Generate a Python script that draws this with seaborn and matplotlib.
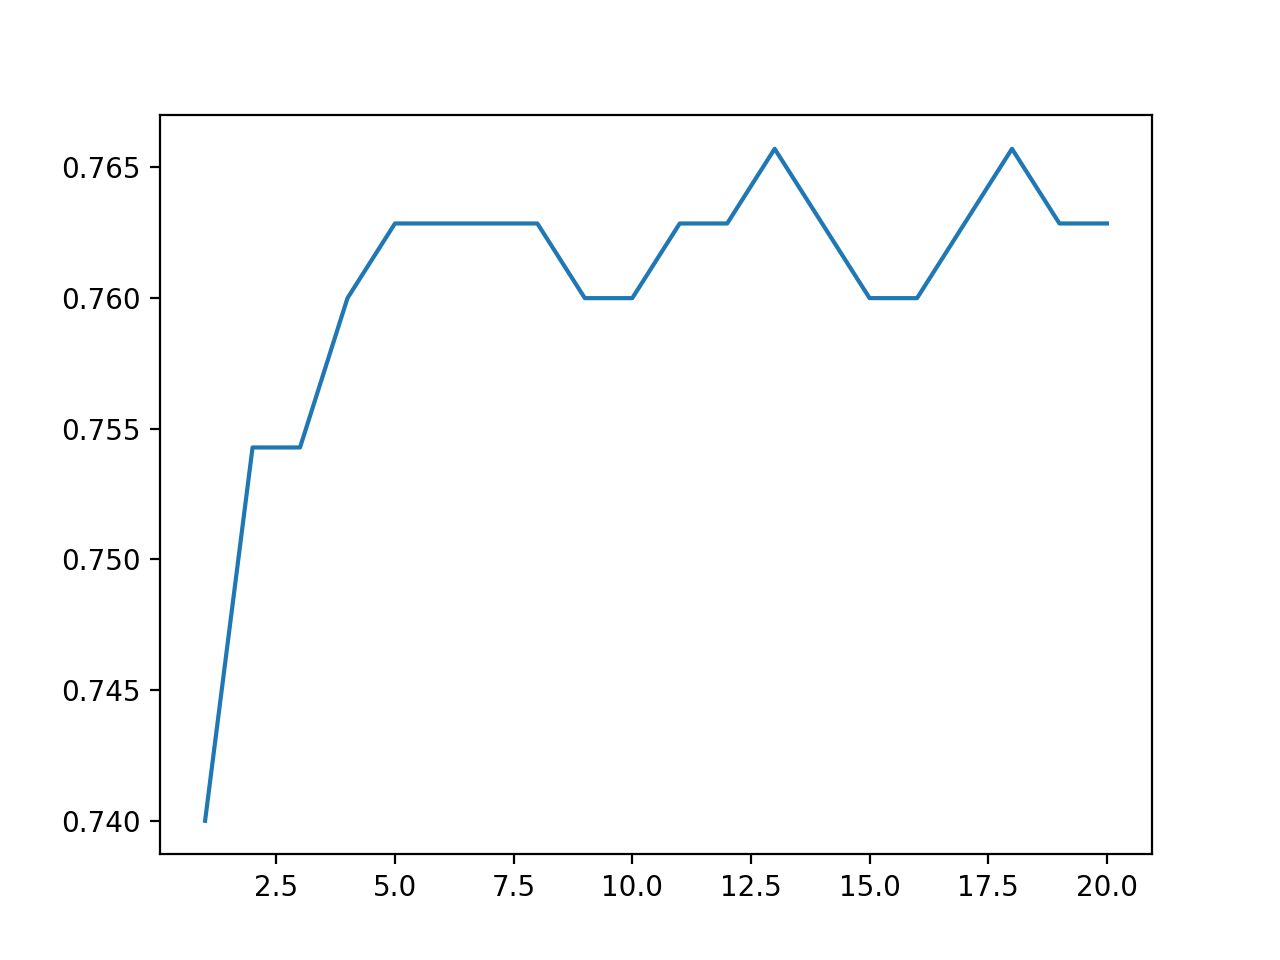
import matplotlib
matplotlib.use("Agg")
import matplotlib.pyplot as plt
import seaborn as sns

# k values and accuracy scores
k_values = list(range(1, 21))
scores = [259, 264, 264, 266, 267, 267, 267, 267, 266, 266,
          267, 267, 268, 267, 266, 266, 267, 268, 267, 267]
scores = [s / 350 for s in scores]

fig, ax = plt.subplots(figsize=(6.4, 4.8))
sns.lineplot(x=k_values, y=scores, ax=ax, color="#1f77b4")

fig.savefig("out.png", dpi=200)
